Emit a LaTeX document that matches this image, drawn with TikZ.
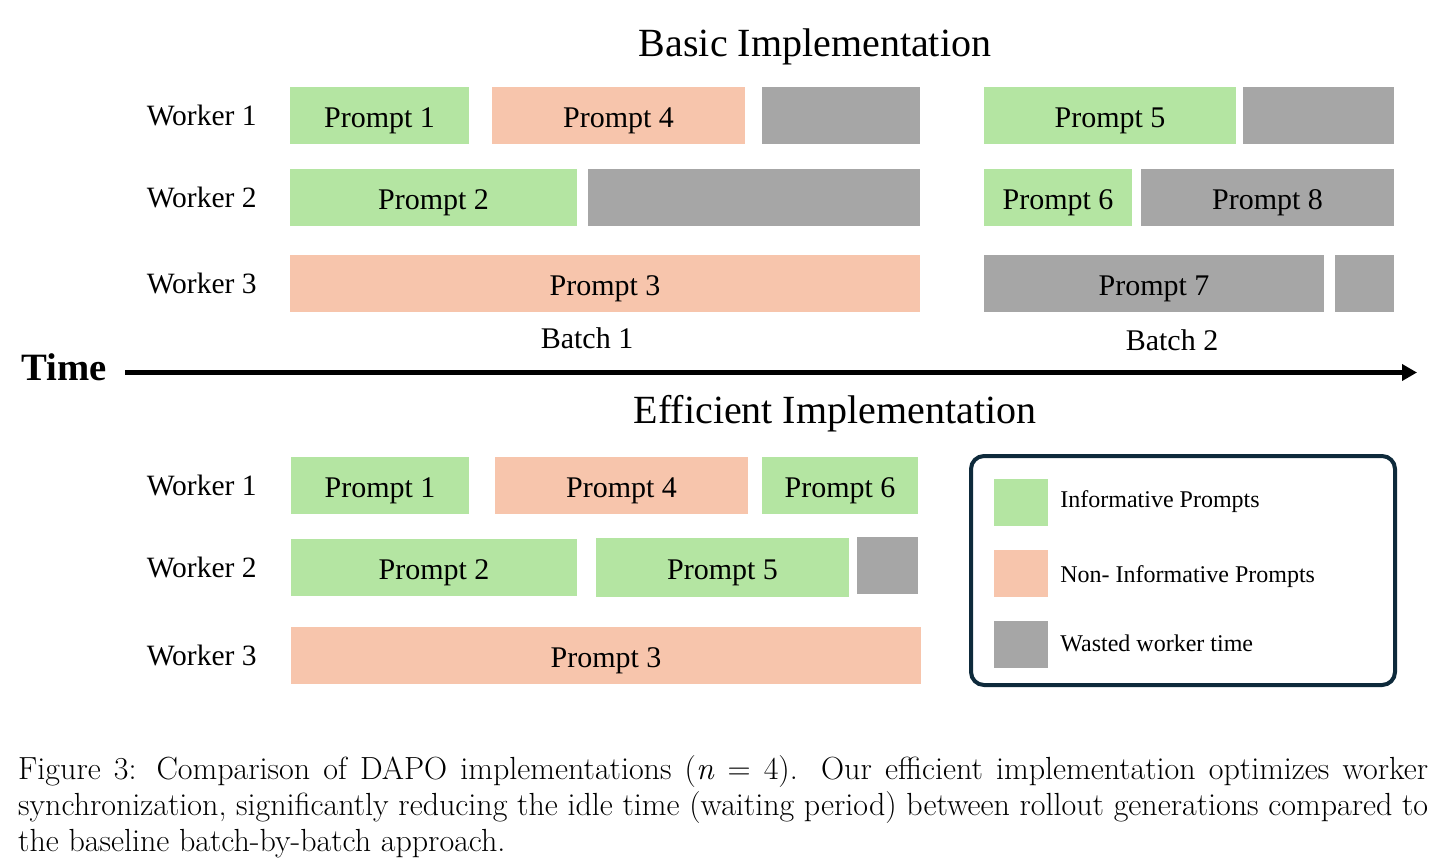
\documentclass[tikz,border=0pt]{standalone}
\usepackage{fontspec}
\newfontfamily\figfont{Liberation Serif}
\usetikzlibrary{positioning,arrows.meta}
\definecolor{promptgreen}{HTML}{B4E5A2}
\definecolor{promptpeach}{HTML}{F7C5AC}
\definecolor{idlegray}{HTML}{A6A6A6}
\definecolor{legendnavy}{HTML}{0E2A3B}

\begin{document}
\begin{tikzpicture}[x=1pt, y=-1pt,
    slot/.style={minimum height=57pt, inner sep=0pt, text height=27pt, text depth=3pt, font=\figfont\fontsize{30}{36}\selectfont},
    info/.style={slot, fill=promptgreen},
    noninfo/.style={slot, fill=promptpeach},
    wasted/.style={slot, fill=idlegray},
    worker/.style={inner sep=0pt, font=\figfont\fontsize{29.5}{35}\selectfont},
    heading/.style={font=\figfont\fontsize{40}{48}\selectfont},
    batch/.style={font=\figfont\fontsize{30}{36}\selectfont},
    swatch/.style={minimum width=54pt, minimum height=47pt, inner sep=0pt},
    legendtext/.style={inner sep=0pt, text height=16pt, text depth=5pt, font=\figfont\fontsize{24}{29}\selectfont}]
    \useasboundingbox (0,0) rectangle (1445,857);

    % Basic implementation
    \node[heading] (basic) at (815,47) {Basic Implementation};
    \node[info, minimum width=179pt] (bp1) at (379.5,115) {Prompt 1};
    \node[noninfo, minimum width=253pt] (bp4) at (618.5,115) {Prompt 4};
    \node[wasted, minimum width=158pt] (bidle1) at (841,115) {};
    \node[info, minimum width=252pt] (bp5) at (1110,115) {Prompt 5};
    \node[wasted, minimum width=151pt] (bidle2) at (1318.5,115) {};
    \node[info, minimum width=287pt] (bp2) at (433.5,197) {Prompt 2};
    \node[wasted, minimum width=332pt] (bidle3) at (754,197) {};
    \node[info, minimum width=148pt] (bp6) at (1058,197) {Prompt 6};
    \node[wasted, minimum width=253pt] (bp8) at (1267.5,197) {Prompt 8};
    \node[noninfo, minimum width=630pt] (bp3) at (605,283.5) {Prompt 3};
    \node[wasted, minimum width=340pt] (bp7) at (1154,283.5) {Prompt 7};
    \node[wasted, minimum width=59pt] (bidle4) at (1364.5,283.5) {};
    \node[worker, left=33pt of bp1] (bw1) {Worker 1};
    \node[worker, left=33pt of bp2] (bw2) {Worker 2};
    \node[worker, left=33pt of bp3] (bw3) {Worker 3};
    \node[batch] (batch1) at (587,338) {Batch 1};
    \node[batch] (batch2) at (1172,340.5) {Batch 2};

    % Time axis
    \node[anchor=base west, inner sep=0pt, font=\figfont\bfseries\fontsize{38.7}{46}\selectfont] (time) at (21,380) {Time};
    \coordinate (tstart) at (125,372.5);
    \coordinate (tend) at (1417,372.5);
    \draw[line width=5pt, -{Triangle[length=15pt,width=16pt]}] (tstart) -- (tend);

    % Efficient implementation
    \node[heading] (efficient) at (835,414) {Efficient Implementation};
    \node[info, minimum width=178pt] (ep1) at (380,485) {Prompt 1};
    \node[noninfo, minimum width=253pt] (ep4) at (621.5,485) {Prompt 4};
    \node[info, minimum width=156pt] (ep6) at (840,485) {Prompt 6};
    \node[info, minimum width=286pt] (ep2) at (434,567) {Prompt 2};
    \node[info, minimum width=253pt, minimum height=59pt] (ep5) at (722.5,567.5) {Prompt 5};
    \node[wasted, minimum width=61pt] (eidle) at (887.5,565.5) {};
    \node[noninfo, minimum width=630pt] (ep3) at (606,655.5) {Prompt 3};
    \node[worker, left=34pt of ep1] (ew1) {Worker 1};
    \node[worker, left=34pt of ep2] (ew2) {Worker 2};
    \node[worker, left=34pt of ep3] (ew3) {Worker 3};

    % Legend
    \node[draw=legendnavy, line width=4pt, rounded corners=13pt, minimum width=424pt, minimum height=229pt] (legend) at (1183,570.5) {};
    \node[swatch, fill=promptgreen] (swinfo) at (1021,502) {};
    \node[swatch, fill=promptpeach] (swnon) at (1021,573) {};
    \node[swatch, fill=idlegray] (swidle) at (1021,644) {};
    \node[legendtext, right=12pt of swinfo] (ltinfo) {Informative Prompts};
    \node[legendtext, right=12pt of swnon, yshift=-4pt] (ltnon) {Non- Informative Prompts};
    \node[legendtext, right=12pt of swidle, yshift=-2pt] (ltidle) {Wasted worker time};

    % Caption
    \node[anchor=base west, text width=1410pt, align=justify, inner sep=0pt, font=\fontsize{32}{36}\selectfont] (caption) at (18,779)
        {Figure 3: Comparison of DAPO implementations (\textit{n}~=~4). Our efficient implementation optimizes worker\linebreak
        synchronization, significantly reducing the idle time (waiting period) between rollout generations compared to\linebreak
        the baseline batch-by-batch approach.};
\end{tikzpicture}
\end{document}
